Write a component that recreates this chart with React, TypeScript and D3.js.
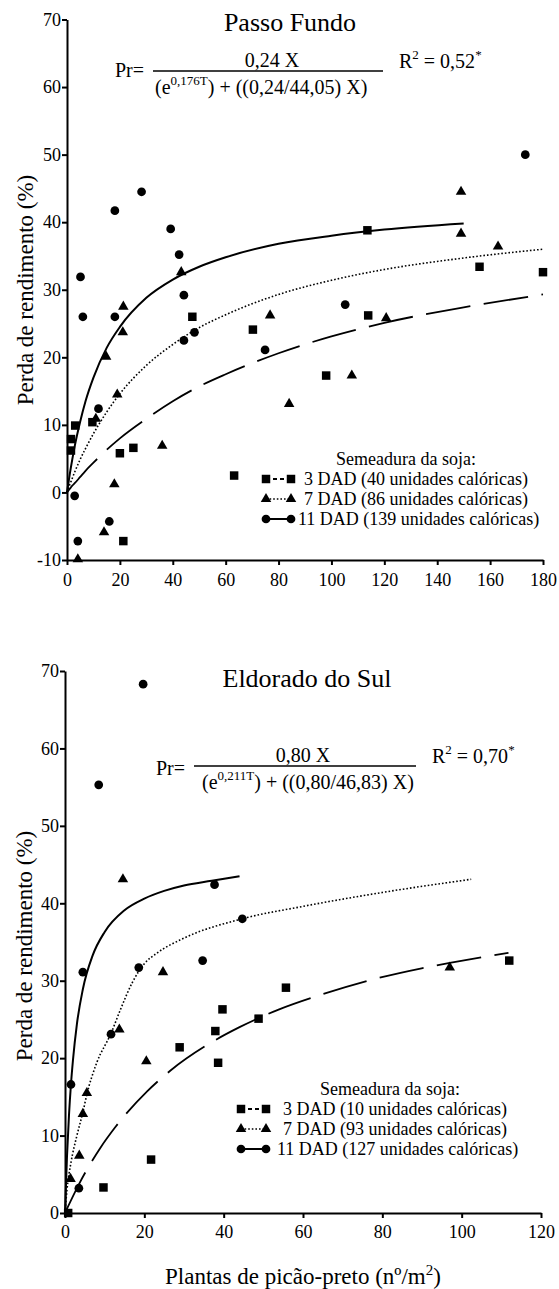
import React, { useEffect, useRef } from "react";
import * as d3 from "d3";

const FONT = "Liberation Serif, Tinos, Times New Roman, Times, DejaVu Serif, Noto Serif, serif";

// ---- Passo Fundo (top) ----
const pfSqX = [1.5, 1.5, 3.1, 9.6, 20, 25.1, 21.3, 47.4, 63.2, 70.3, 98, 113.6, 113.9, 156, 180];
const pfSqY = [7.9, 6.2, 9.9, 10.4, 5.8, 6.6, -7.2, 26, 2.5, 24.1, 17.3, 38.8, 26.2, 33.4, 32.6];
const pfTrX = [4.1, 14, 17.9, 10.9, 19, 14.8, 21.1, 21.3, 43.2, 36, 76.8, 84, 107.7, 120.7, 149, 149, 163];
const pfTrY = [-9.9, -5.9, 1.2, 10.9, 14.5, 20.1, 23.7, 27.5, 32.6, 6.9, 26.2, 13.1, 17.3, 25.8, 44.5, 38.3, 36.4];
const pfCiX = [2.9, 4.1, 16, 11.9, 5.1, 6, 18.1, 18.1, 28.2, 39.2, 42.4, 44.2, 44.2, 48.2, 74.9, 105.2, 173.3];
const pfCiY = [-0.5, -7.2, -4.3, 12.4, 31.9, 26, 41.7, 26, 44.5, 39, 35.2, 29.2, 22.5, 23.7, 21.1, 27.8, 50];

const pfSolidX = [0, 1, 2, 3, 5, 7, 10, 15, 20, 30, 40, 50, 60, 80, 100, 120, 150];
const pfSolidY = [0, 2.6, 4.9, 7.0, 10.5, 13.5, 17.0, 21.4, 24.5, 28.8, 31.5, 33.4, 34.8, 36.8, 38.0, 38.9, 39.8];
const pfCurveX = [0, 1, 2, 3, 5, 7, 10, 15, 20, 30, 40, 50, 60, 80, 100, 120, 150, 180];
const pfDottedY = [0, 1.1, 2.1, 3.1, 4.9, 6.5, 8.7, 11.9, 14.6, 18.8, 21.9, 24.4, 26.3, 29.3, 31.4, 33.0, 34.7, 36.0];
const pfDashedY = [0, 0.5, 1.0, 1.4, 2.3, 3.2, 4.4, 6.3, 8.0, 10.9, 13.5, 15.7, 17.5, 20.6, 23.1, 25.1, 27.4, 29.3];

// ---- Eldorado do Sul (bottom) ----
const esSqX = [0.8, 9.7, 21.7, 28.9, 37.9, 38.6, 39.7, 48.8, 55.7, 112];
const esSqY = [0, 3.3, 6.9, 21.4, 23.5, 19.4, 26.3, 25.1, 29.1, 32.6];
const esTrX = [1.4, 3.6, 4.5, 5.5, 13.7, 20.5, 24.7, 14.6, 97];
const esTrY = [4.4, 7.4, 12.8, 15.5, 23.7, 19.6, 31.1, 43.1, 31.7];
const esCiX = [1.5, 3.5, 4.5, 11.6, 18.6, 34.7, 37.7, 44.7, 8.5, 19.7];
const esCiY = [16.6, 3.2, 31.1, 23.1, 31.7, 32.6, 42.4, 38.0, 55.3, 68.3];

const esSolidX = [0, 0.5, 1, 1.5, 2, 3, 4.5, 7, 10, 15, 20, 25, 30, 37, 44];
const esSolidY = [0, 7.3, 12.6, 16.6, 19.7, 24.4, 28.9, 33.3, 36.3, 39.1, 40.6, 41.6, 42.3, 42.9, 43.5];
const esDottedX = [0, 0.5, 1.5, 3, 4.5, 5.5, 8, 11.6, 14, 17, 20, 23, 30, 44.7, 60, 80, 102.4];
const esDottedY = [0, 3, 6.5, 10, 13, 15.3, 19.4, 23.2, 26.3, 29.8, 32.2, 33.5, 35.5, 38.0, 39.6, 41.4, 43.1];
const esDashedX = [0, 3.5, 8.9, 12.7, 20.7, 26.6, 36.8, 44, 54, 64.6, 76.4, 89.9, 97, 111.8];
const esDashedY = [0, 3.7, 8.4, 11.1, 15.7, 18.4, 22.0, 24.0, 26.3, 28.2, 30.0, 31.6, 32.3, 33.6];

const pfXTicks = [0, 20, 40, 60, 80, 100, 120, 140, 160, 180];
const pfYTicks = [-10, 0, 10, 20, 30, 40, 50, 60, 70];
const esXTicks = [0, 20, 40, 60, 80, 100, 120];
const esYTicks = [0, 10, 20, 30, 40, 50, 60, 70];

const zip = (xs, ys) => xs.map((v, i) => [v, ys[i]]);

const sqPath = d3.symbol(d3.symbolSquare, 72)();
const trPath = d3.symbol(d3.symbolTriangle, 48)();
const ciPath = d3.symbol(d3.symbolCircle, 60)();

function Axes({ x, y, xTicks, yTicks, xPad }) {
  const xRef = useRef(null);
  const yRef = useRef(null);
  useEffect(() => {
    const gx = d3.select(xRef.current);
    gx.call(d3.axisBottom(x).tickValues(xTicks).tickSize(5).tickSizeOuter(0).tickPadding(xPad).tickFormat((d) => String(d)));
    const gy = d3.select(yRef.current);
    gy.call(d3.axisLeft(y).tickValues(yTicks).tickSize(5).tickSizeOuter(0).tickPadding(1).tickFormat((d) => String(d)));
    [gx, gy].forEach((g) => {
      g.attr("font-family", FONT).attr("font-size", 18);
      g.selectAll("path, line").attr("stroke", "#000").attr("stroke-width", 2);
      g.selectAll("text").attr("fill", "#000");
    });
  }, []);
  return (
    <>
      <g ref={xRef} transform={`translate(0,${y.range()[0]})`} />
      <g ref={yRef} transform={`translate(${x.range()[0]},0)`} />
    </>
  );
}

function Panel({ x, y, xTicks, yTicks, xPad, squares, triangles, circles, solid, dotted, dashed }) {
  const line = d3
    .line()
    .x((d) => x(d[0]))
    .y((d) => y(d[1]))
    .curve(d3.curveMonotoneX);
  const marks = (pts, p) =>
    pts.map((d, i) => <path key={i} d={p} transform={`translate(${x(d[0])},${y(d[1])})`} fill="#000" />);
  return (
    <g>
      <path d={line(dashed)} fill="none" stroke="#000" strokeWidth={1.8} strokeDasharray="45 13.5" />
      <path d={line(dotted)} fill="none" stroke="#000" strokeWidth={1.6} strokeDasharray="1.6 2" />
      <path d={line(solid)} fill="none" stroke="#000" strokeWidth={2} />
      <Axes x={x} y={y} xTicks={xTicks} yTicks={yTicks} xPad={xPad} />
      {marks(squares, sqPath)}
      {marks(triangles, trPath)}
      {marks(circles, ciPath)}
    </g>
  );
}

function Legend({ cx, titleY, x1, x2, rows, textX }) {
  const items = [
    { p: sqPath, dash: "4 3", w: 1.8, label: rows[0] },
    { p: trPath, dash: "1.6 2", w: 1.6, label: rows[1] },
    { p: ciPath, dash: null, w: 2, label: rows[2] },
  ];
  return (
    <g style={{ fontFamily: FONT }} fontSize={18} fill="#000">
      <text x={cx} y={titleY + 6} textAnchor="middle">Semeadura da soja:</text>
      {items.map((it, i) => {
        const yy = titleY + 20 * (i + 1);
        return (
          <g key={i}>
            <line x1={x1} x2={x2} y1={yy} y2={yy} stroke="#000" strokeWidth={it.w} strokeDasharray={it.dash || undefined} />
            <path d={it.p} transform={`translate(${x1},${yy})`} />
            <path d={it.p} transform={`translate(${x2},${yy})`} />
            <text x={textX[i]} y={yy + 6}>{it.label}</text>
          </g>
        );
      })}
    </g>
  );
}

export default function App() {
  const pfX = d3.scaleLinear().domain([0, 180]).range([67, 543]);
  const pfY = d3.scaleLinear().domain([-10, 70]).range([560, 19.5]);
  const esX = d3.scaleLinear().domain([0, 120]).range([65, 541]);
  const esY = d3.scaleLinear().domain([0, 70]).range([1213, 671]);

  return (
    <svg width={559} height={1289} style={{ position: "absolute", left: 0, top: 0, background: "#fff", fontFamily: FONT }}>
      <rect width={559} height={1289} fill="#fff" />

      {/* Passo Fundo */}
      <text x={290} y={31} textAnchor="middle" fontSize={26}>Passo Fundo</text>
      <g fontSize={20}>
        <text x={115} y={77}>Pr=</text>
        <text x={272} y={67} textAnchor="middle">0,24 X</text>
        <line x1={153} x2={383} y1={71} y2={71} stroke="#000" strokeWidth={1.5} />
        <text x={155} y={94}>
          (e<tspan dy={-9} fontSize={13}>0,176T</tspan>
          <tspan dy={9}>) + ((0,24/44,05) X)</tspan>
        </text>
        <text x={399} y={68}>
          R<tspan dy={-9} fontSize={13}>2</tspan>
          <tspan dy={9}> = 0,52</tspan>
          <tspan dy={-9} fontSize={13}>*</tspan>
        </text>
      </g>
      <text transform="translate(33,290) rotate(-90)" textAnchor="middle" fontSize={23}>Perda de rendimento (%)</text>
      <Panel
        x={pfX}
        y={pfY}
        xTicks={pfXTicks}
        yTicks={pfYTicks}
        xPad={8}
        squares={zip(pfSqX, pfSqY)}
        triangles={zip(pfTrX, pfTrY)}
        circles={zip(pfCiX, pfCiY)}
        solid={zip(pfSolidX, pfSolidY)}
        dotted={zip(pfCurveX, pfDottedY)}
        dashed={zip(pfCurveX, pfDashedY)}
      />
      <Legend
        cx={406}
        titleY={459}
        x1={266}
        x2={291}
        textX={[304, 304, 298]}
        rows={["3 DAD (40 unidades calóricas)", "7 DAD (86 unidades calóricas)", "11 DAD (139 unidades calóricas)"]}
      />

      {/* Eldorado do Sul */}
      <text x={307} y={687} textAnchor="middle" fontSize={26}>Eldorado do Sul</text>
      <g fontSize={20}>
        <text x={156} y={775}>Pr=</text>
        <text x={303} y={762} textAnchor="middle">0,80 X</text>
        <line x1={194} x2={416} y1={766} y2={766} stroke="#000" strokeWidth={1.5} />
        <text x={202} y={789}>
          (e<tspan dy={-9} fontSize={13}>0,211T</tspan>
          <tspan dy={9}>) + ((0,80/46,83) X)</tspan>
        </text>
        <text x={432} y={763}>
          R<tspan dy={-9} fontSize={13}>2</tspan>
          <tspan dy={9}> = 0,70</tspan>
          <tspan dy={-9} fontSize={13}>*</tspan>
        </text>
      </g>
      <text transform="translate(31.5,946) rotate(-90)" textAnchor="middle" fontSize={23}>Perda de rendimento (%)</text>
      <Panel
        x={esX}
        y={esY}
        xTicks={esXTicks}
        yTicks={esYTicks}
        xPad={7.5}
        squares={zip(esSqX, esSqY)}
        triangles={zip(esTrX, esTrY)}
        circles={zip(esCiX, esCiY)}
        solid={zip(esSolidX, esSolidY)}
        dotted={zip(esDottedX, esDottedY)}
        dashed={zip(esDashedX, esDashedY)}
      />
      <Legend
        cx={390}
        titleY={1089}
        x1={241}
        x2={266}
        textX={[283, 283, 277]}
        rows={["3 DAD (10 unidades calóricas)", "7 DAD (93 unidades calóricas)", "11 DAD (127 unidades calóricas)"]}
      />
      <text x={303} y={1284} textAnchor="middle" fontSize={23}>
        Plantas de picão-preto (nº/m<tspan dy={-9} fontSize={15}>2</tspan>
        <tspan dy={9}>)</tspan>
      </text>
    </svg>
  );
}
